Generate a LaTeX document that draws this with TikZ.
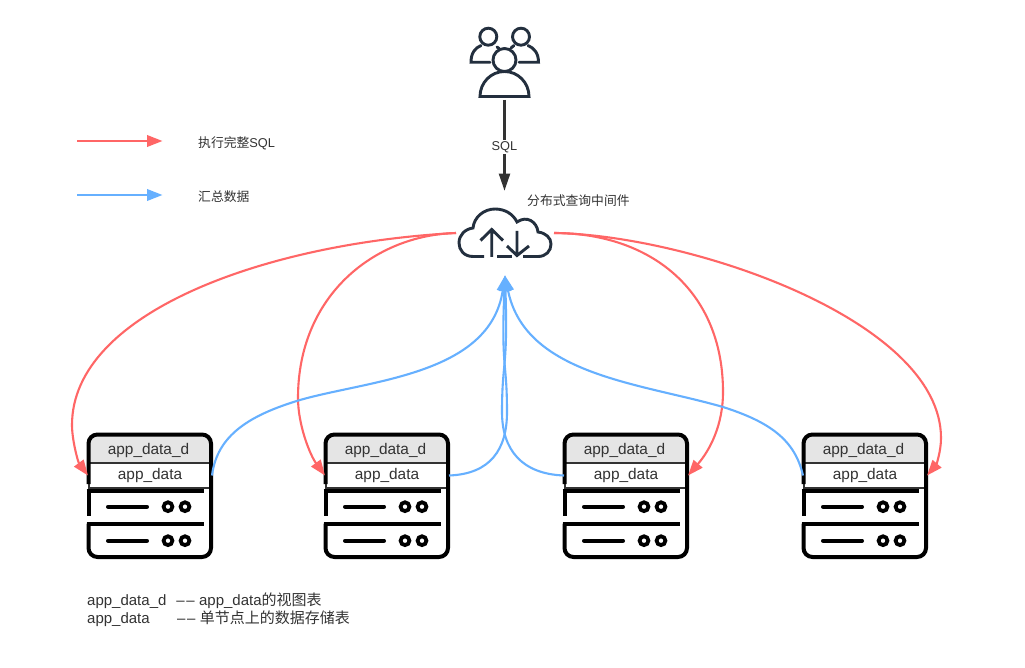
\documentclass[tikz,border=0pt]{standalone}
\usepackage{fontspec}
\setmainfont{Liberation Sans}
\newfontfamily\cjkfont{Noto Sans CJK SC}
\usetikzlibrary{arrows.meta,calc}
\definecolor{txtgray}{HTML}{333333}
\definecolor{icondark}{HTML}{232F3E}
\definecolor{redline}{HTML}{FF6666}
\definecolor{blueline}{HTML}{66B0FF}
\definecolor{headgray}{HTML}{E5E5E5}
\tikzset{
  txt/.style={text=txtgray,inner sep=0pt,font=\fontsize{12.8}{14}\selectfont},
  bigtxt/.style={text=txtgray,inner sep=0pt,font=\fontsize{15}{17}\selectfont},
  redarrow/.style={draw=redline,line width=2.1pt,-{Triangle[length=15.5pt,width=11.5pt]}},
  bluearrow/.style={draw=blueline,line width=2.1pt,-{Triangle[length=15.5pt,width=11.5pt]}},
  iconline/.style={draw=icondark,line width=2.9pt},
  srvline/.style={draw=black,line width=4pt},
  srvcell/.style={draw=txtgray,line width=2pt,fill=white,minimum width=122pt,minimum height=25pt,inner sep=0pt,text=txtgray,font=\fontsize{15.4}{17}\selectfont},
  box/.style={inner sep=0pt,outer sep=0pt}
}
\begin{document}
\begin{tikzpicture}[x=1pt,y=-1pt]
  \useasboundingbox (0,0) rectangle (1025,668);
  \fill[white] (0,0) rectangle (1025,668);
  % users
  \node[box,minimum width=70pt,minimum height=74pt] (users) at (504.5,63) {};
  \draw[iconline] (504.5,60) circle (11.5pt);
  \draw[iconline] (480,96.5) -- (529,96.5) arc (0:180:24.5pt and 25pt) -- cycle;
  \draw[iconline] (488.3,36.7) circle (8.5pt);
  \draw[iconline] (521,36.7) circle (8.5pt);
  \draw[iconline,line cap=round] (490,62.3) -- (471,62.3) .. controls (471,53) and (475,48) .. (481,45.5);
  \draw[iconline,line cap=round] (497,47) -- (499,48.5);
  \draw[iconline,line cap=round] (519,62.3) -- (538.5,62.3) .. controls (538.5,53) and (534,48) .. (528,45.5);
  \draw[iconline,line cap=round] (514,45.5) -- (511,48);
  % cloud
  \node[box,minimum width=98pt,minimum height=48pt] (cloud) at (505,233) {};
  \draw[iconline] (484,256.5) -- (473,256.5) .. controls (464,256.5) and (459,250) .. (459,243)
    .. controls (459,235) and (465,229) .. (473,228) .. controls (474,217) and (484,209) .. (495,209)
    .. controls (505,209) and (513,214) .. (517,222) .. controls (527,215) and (537,222) .. (538,232)
    .. controls (546,233) and (551,238) .. (551,244) .. controls (551,251) and (546,256.5) .. (538,256.5) -- (523,256.5);
  \draw[iconline] (497,256.5) -- (512,256.5);
  \draw[iconline] (491.7,257) -- (491.7,230) (480.5,240.5) -- (491.7,229.5) -- (503,240.5);
  \draw[iconline] (517,231) -- (517,255) (507,246) -- (517,255.5) -- (529,246);
  \node[txt,anchor=west] (cloudname) at (527,200.5) {\cjkfont 分布式查询中间件};
  \coordinate (cloudin) at (505,275.5);
  \coordinate (cloudtop) at (504.5,190.7);
  % user request
  \draw[draw=txtgray,line width=2.1pt,-{Triangle[length=17pt,width=11pt]}] (users.south) -- (cloudtop)
    node[pos=0.516,fill=white,inner sep=1.5pt,text=txtgray,font=\fontsize{12.8}{14}\selectfont] (sqllabel) {SQL};
  % legend
  \coordinate (reda) at (77,141);
  \coordinate (redb) at (162.5,141);
  \coordinate (bluea) at (77,195);
  \coordinate (blueb) at (162.5,195);
  \draw[redarrow] (reda) -- (redb);
  \draw[bluearrow] (bluea) -- (blueb);
  \node[txt,anchor=west] (redtxt) at (198,143.5) {\cjkfont 执行完整\rmfamily SQL};
  \node[txt,anchor=west] (bluetxt) at (198,197) {\cjkfont 汇总数据};
  % servers
  \foreach \name/\xoff in {a/0,b/237,c/476,d/715}{
    \begin{scope}[xshift=\xoff pt]
      \fill[headgray,rounded corners=7pt] (88,435) rectangle (210,470);
      \node[srvcell,anchor=north west] (data\name) at (88,462) {\raisebox{-1.5pt}{app\_data}};
      \node[box,text=txtgray,font=\fontsize{15.4}{17}\selectfont] (view\name) at (148.5,451) {app\_data\_d};
      \draw[srvline,rounded corners=9pt] (88.5,484) -- (88.5,434.5) -- (211,434.5) -- (211,557) -- (88.5,557) -- (88.5,523.5);
      \draw[srvline] (86.5,490.5) -- (204,490.5) (86.5,523.5) -- (204,523.5);
      \draw[srvline] (88.5,490.5) -- (88.5,516);
      \foreach \ypos in {506.7,540.7}{
        \draw[srvline,line cap=round] (108,\ypos) -- (147,\ypos);
        \draw[draw=black,line width=3.8pt] (168,\ypos) circle (4.4pt);
        \draw[draw=black,line width=3.8pt] (185,\ypos) circle (4.4pt);
      }
    \end{scope}
  }
  % connectors
  \draw[redarrow] (cloud.west) .. controls (267,243) and (72,312) .. (72,425) .. controls (72,440) and (78,462) .. (dataa.west);
  \draw[redarrow] (cloud.west) .. controls (375,235) and (298,295) .. (298,398) .. controls (298,425) and (310,455) .. (datab.west);
  \draw[redarrow] (cloud.east) .. controls (650,233) and (723,290) .. (723,392) .. controls (723,425) and (710,450) .. (datac.east);
  \draw[redarrow] (cloud.east) .. controls (690,235) and (941,320) .. (941,438) .. controls (941,452) and (936,465) .. (datad.east);
  \draw[bluearrow] (dataa.east) .. controls (217,435) and (250,415) .. (300,400) .. controls (370,380) and (490,375) .. (cloudin);
  \draw[bluearrow] (datab.east) .. controls (490,474) and (507,450) .. (507,412) .. controls (507,360) and (501,370) .. (cloudin);
  \draw[bluearrow] (datac.west) .. controls (522,474) and (502,450) .. (502,412) .. controls (502,360) and (508,370) .. (cloudin);
  \draw[bluearrow] (datad.west) .. controls (795,440) and (770,422) .. (723,407) .. controls (640,383) and (525,375) .. (cloudin);
  % note
  \node[bigtxt,anchor=west] (noteview) at (87,601) {app\_data\_d\rlap{\hspace{10pt}–\kern1.5pt–\hspace{4.5pt}app\_data{\cjkfont 的视图表}}};
  \node[bigtxt,anchor=west] (notedata) at (87,619) {app\_data\rlap{\hspace{27.5pt}–\kern1.5pt–\hspace{4.5pt}{\cjkfont 单节点上的数据存储表}}};
\end{tikzpicture}
\end{document}
